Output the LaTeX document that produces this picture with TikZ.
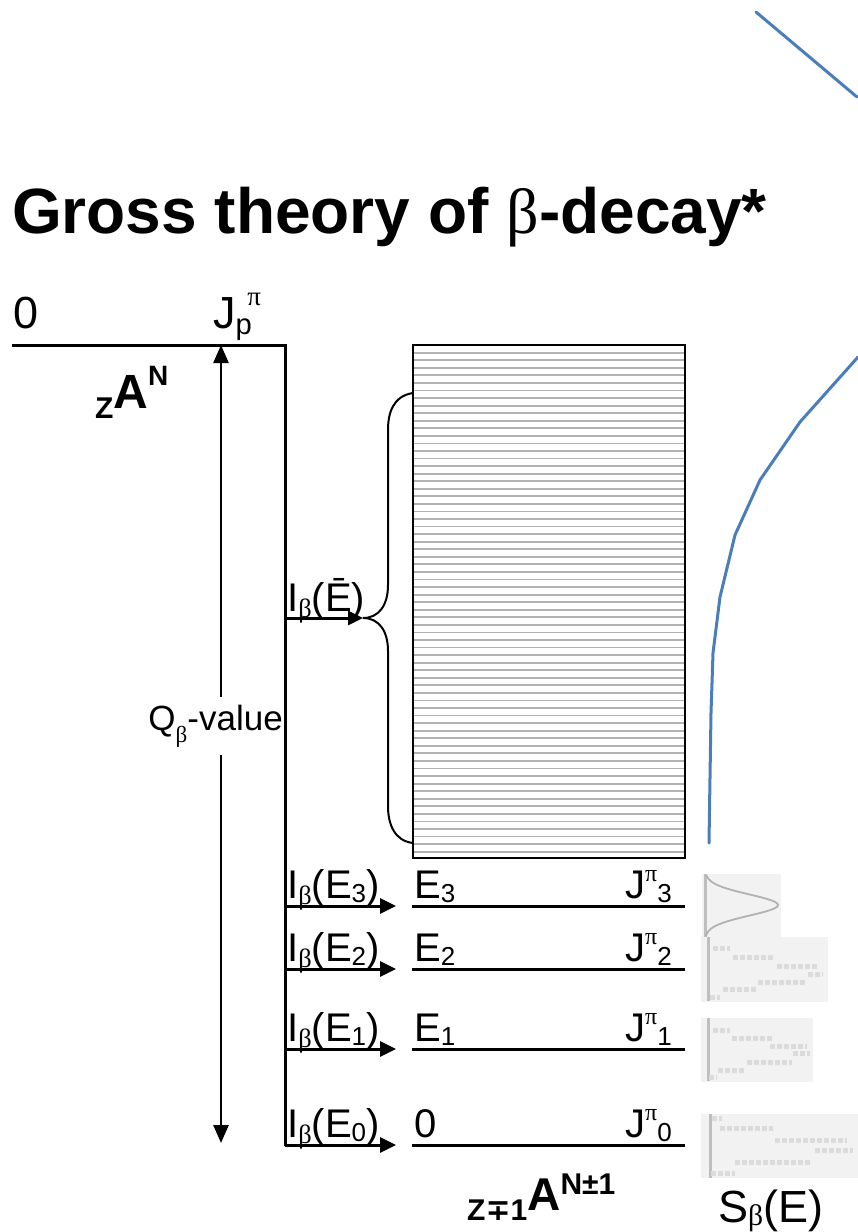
\documentclass[tikz,border=0pt]{standalone}
\usepackage{fontspec}
\usepackage{graphicx}
\setmainfont{Liberation Sans}
\newfontfamily\grk{Liberation Serif}
\newfontfamily\dvs{DejaVu Sans}
\usetikzlibrary{arrows.meta}
\definecolor{curveblue}{HTML}{4A7EBB}
\newcommand{\bsub}[1][-0.15em]{\raisebox{#1}{\scalebox{0.66}{\grk β}}}
\newcommand{\nsub}[1]{\raisebox{-0.1em}{\scalebox{0.65}{#1}}}
\newcommand{\psup}{\raisebox{0.42em}{\scalebox{0.6}{\grk π}}}
\begin{document}
\begin{tikzpicture}[x=1pt,y=-1pt,
  lbl/.style={anchor=base west, inner sep=0, font=\fontsize{40}{40}\selectfont},
  biglbl/.style={anchor=base west, inner sep=0, font=\fontsize{45}{45}\selectfont},
  blk/.style={line width=3pt, black},
  lvl/.style={line width=3pt, black},
  arr/.style={line width=3pt, -{Triangle[length=16pt,width=15pt]}},
  dbl/.style={line width=2.5pt, {Triangle[length=18pt,width=15pt]}-{Triangle[length=18pt,width=15pt]}},
  hatch/.style={line width=1.8pt, gray!60},
  brace/.style={line width=2pt, black},
  specbox/.style={fill=gray!10, draw=none},
  specaxis/.style={line width=3pt, gray!50},
  specbar/.style={line width=5pt, gray!28, dash pattern=on 5pt off 2pt},
  bluecurve/.style={line width=3pt, curveblue, line join=round, line cap=round}]
\useasboundingbox (0,0) rectangle (858,1232);

% title
\node[anchor=base west, inner sep=0, font=\bfseries\fontsize{64}{70}\selectfont] (title) at (12,233) {Gross theory of {\grk\mdseries β}-decay*};

% blue curve
\draw[bluecurve] (756,12) coordinate (bc1) -- (857,97) coordinate (bc2);
\draw[bluecurve] (858,357) coordinate (bc3) -- (800,422) -- (760,480) -- (735,535) -- (720,597) -- (713,653) -- (711,713) -- (709,843) coordinate (bc4);

% parent level
\node[biglbl] (zero) at (13,328) {0};
\node[biglbl] (jp) at (213,328) {J\raisebox{-0.15em}{\scalebox{0.65}{p}}\kern-0.1em\raisebox{0.5em}{\scalebox{0.6}{\grk π}}};
\node[anchor=base west, inner sep=0] (za) at (95,418) {\bfseries{\fontsize{30}{30}\selectfont Z}\raisebox{10pt}{\fontsize{48}{48}\selectfont A}\raisebox{33pt}{\fontsize{28}{28}\selectfont N}};
\coordinate (p0) at (12,345);
\coordinate (p1) at (285,345);
\coordinate (p2) at (285,1146);

% Q-value double arrow
\coordinate (qtop) at (221,345);
\coordinate (qbot) at (221,1143);
\draw[dbl] (qbot) -- (qtop);
\node[anchor=base east, inner xsep=0, inner ysep=8pt, fill=white, font=\fontsize{35}{35}\selectfont] (qv) at (283,730) {Q\bsub[-0.35em]-value};

\draw[blk] (p0) -- (p1) -- (p2);

% continuum box
\foreach \i in {0,...,66} {
  \draw[hatch] (414,{352.7+7.56*\i}) -- (684,{352.7+7.56*\i});
}
\draw[line width=2pt] (413,345) rectangle (685,858);
\node[inner sep=0] (box) at (549,601.5) {};

% brace
\draw[brace] (413,393) .. controls (393,396) and (388,413) .. (388,430) -- (388,585) .. controls (388,605) and (379,618) .. (363,618) coordinate (btip) .. controls (379,618) and (388,631) .. (388,651) -- (388,806) .. controls (388,825) and (395,841) .. (413,843);

% I_beta(Ebar) arrow
\coordinate (sbar) at (285,618);
\draw[line width=3pt, -{Triangle[length=15pt,width=14pt]}] (sbar) -- (btip);
\node[lbl] (ibar) at (287,611) {I\bsub(Ē)};

% discrete levels
\foreach \n/\y/\lab in {3/906/{E\nsub{3}},2/969/{E\nsub{2}},1/1049/{E\nsub{1}},0/1145/{0}} {
  \coordinate (s\n) at (285,\y);
  \coordinate (e\n) at (396,\y);
  \coordinate (a\n) at (412,\y);
  \coordinate (b\n) at (685,\y);
  \draw[arr] (s\n) -- (e\n);
  \draw[lvl] (a\n) -- (b\n);
  \node[lbl] (ib\n) at (287,\y-8) {I\bsub(E\nsub{\n})};
  \node[lbl] (en\n) at (414,\y-8) {\lab};
  \node[lbl] (jn\n) at (625,\y-8) {J\psup\nsub{\n}};
}

% daughter label
\node[anchor=base west, inner sep=0] (daughter) at (467,1220) {\bfseries{\fontsize{30}{30}\selectfont Z{\dvs\bfseries ∓}1}\raisebox{10pt}{\fontsize{46}{46}\selectfont A}\raisebox{26pt}{\fontsize{30}{30}\selectfont N±1}};
\node[biglbl] (sb) at (718,1222) {S\bsub[-0.08em](E)};

% spectra thumbnails
\fill[specbox] (702,874) rectangle (781,937);
\draw[specaxis] (705,874) -- (705,937);
\draw[line width=1.8pt, gray!60] plot[domain=875:936, samples=60, variable=\t] ({705+73*exp(-((\t-905)/15)^2)}, \t);

\fill[specbox] (701,937) rectangle (828,1002);
\draw[specaxis] (708,937) -- (708,1001);
\draw[specbar] (713,948) -- (730,948);
\draw[specbar] (733,957) -- (775,957);
\draw[specbar] (777,966) -- (818,966);
\draw[specbar] (808,974) -- (823,974);
\draw[specbar] (758,982) -- (805,982);
\draw[specbar] (723,989) -- (757,989);
\draw[specbar] (710,997) -- (720,997);

\fill[specbox] (701,1018) rectangle (813,1082);
\draw[specaxis] (708,1018) -- (708,1081);
\draw[specbar] (713,1030) -- (730,1030);
\draw[specbar] (732,1038) -- (772,1038);
\draw[specbar] (770,1046) -- (807,1046);
\draw[specbar] (793,1053) -- (810,1053);
\draw[specbar] (747,1062) -- (792,1062);
\draw[specbar] (718,1070) -- (745,1070);
\draw[specbar] (709,1077) -- (717,1077);

\fill[specbox] (701,1114) rectangle (858,1178);
\draw[specaxis] (710,1114) -- (710,1178);
\draw[specbar] (712,1118) -- (722,1118);
\draw[specbar] (720,1128) -- (773,1128);
\draw[specbar] (775,1140) -- (847,1140);
\draw[specbar] (815,1150) -- (853,1150);
\draw[specbar] (735,1162) -- (812,1162);
\draw[specbar] (711,1173) -- (735,1173);
\end{tikzpicture}
\end{document}
